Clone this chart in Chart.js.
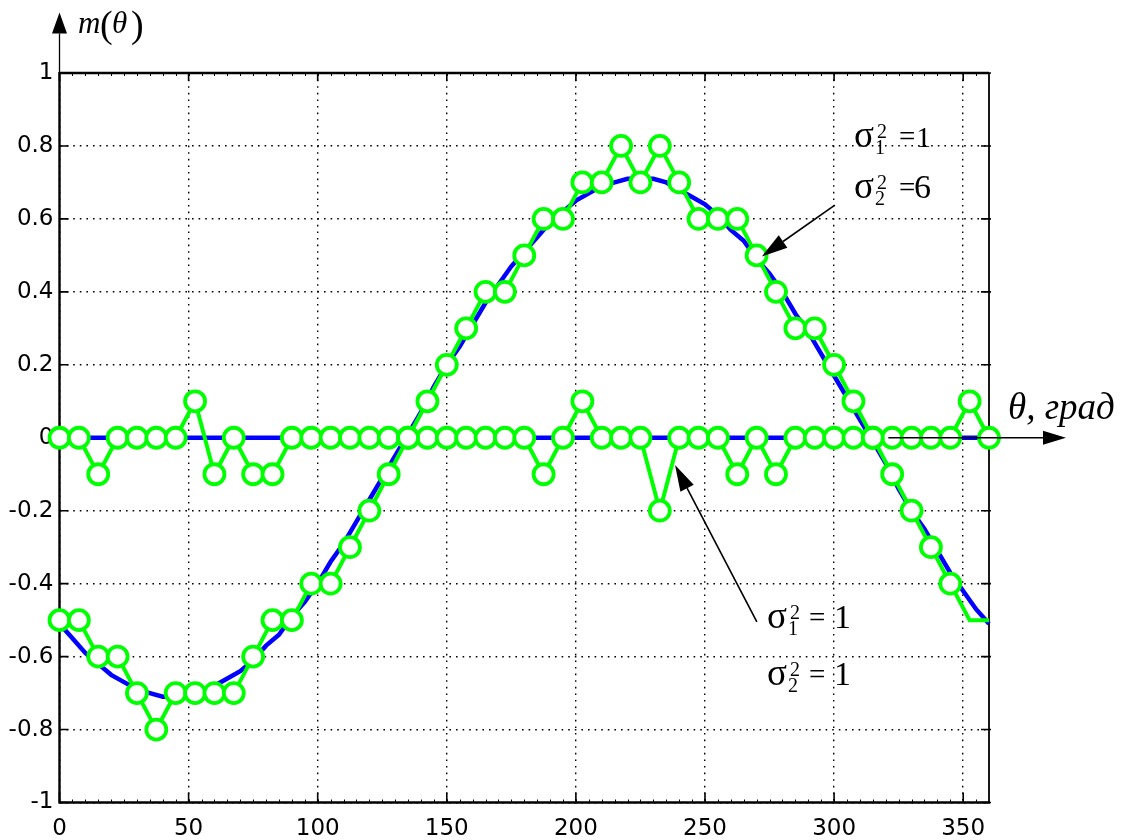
<!DOCTYPE html>
<html>
<head>
<meta charset="utf-8">
<script src="https://cdn.jsdelivr.net/npm/chart.js@4.4.1/dist/chart.umd.min.js"></script>
<style>
    html, body { margin: 0; padding: 0; background: #fff; }
    #wrap { width: 1128px; height: 840px; }
</style>
</head>
<body>
<div id="wrap"><canvas id="chart1" width="1128" height="840"></canvas></div>
<script>
// angles of the noisy estimates (every 7.5 deg)
const thetaGreen = [0, 7.5, 15, 22.5, 30, 37.5, 45, 52.5, 60, 67.5, 75, 82.5, 90, 97.5, 105, 112.5,
    120, 127.5, 135, 142.5, 150, 157.5, 165, 172.5, 180, 187.5, 195, 202.5, 210, 217.5, 225, 232.5,
    240, 247.5, 255, 262.5, 270, 277.5, 285, 292.5, 300, 307.5, 315, 322.5, 330, 337.5, 345, 352.5, 360];

// sigma1^2 = 1, sigma2^2 = 6
const greenSine = [-0.5, -0.5, -0.6, -0.6, -0.7, -0.8, -0.7, -0.7, -0.7, -0.7, -0.6, -0.5, -0.5, -0.4, -0.4, -0.3,
    -0.2, -0.1, 0, 0.1, 0.2, 0.3, 0.4, 0.4, 0.5, 0.6, 0.6, 0.7, 0.7, 0.8, 0.7, 0.8,
    0.7, 0.6, 0.6, 0.6, 0.5, 0.4, 0.3, 0.3, 0.2, 0.1, 0, -0.1, -0.2, -0.3, -0.4, -0.5, -0.5];

// sigma1^2 = 1, sigma2^2 = 1
const greenZero = [0, 0, -0.1, 0, 0, 0, 0, 0.1, -0.1, 0, -0.1, -0.1, 0, 0, 0, 0,
    0, 0, 0, 0, 0, 0, 0, 0, 0, -0.1, 0, 0.1, 0, 0, 0, -0.2,
    0, 0, 0, -0.1, 0, -0.1, 0, 0, 0, 0, 0, 0, 0, 0, 0, 0.1, 0];

// theoretical curves (every 5 deg)
const thetaBlue = [0, 5, 10, 15, 20, 25, 30, 35, 40, 45, 50, 55, 60, 65, 70, 75, 80, 85, 90, 95,
    100, 105, 110, 115, 120, 125, 130, 135, 140, 145, 150, 155, 160, 165, 170, 175, 180, 185, 190, 195,
    200, 205, 210, 215, 220, 225, 230, 235, 240, 245, 250, 255, 260, 265, 270, 275, 280, 285, 290, 295,
    300, 305, 310, 315, 320, 325, 330, 335, 340, 345, 350, 355, 360];
const blueSine = [-0.51, -0.55, -0.59, -0.62, -0.65, -0.67, -0.69, -0.70, -0.71, -0.71,
    -0.71, -0.70, -0.68, -0.66, -0.64, -0.61, -0.57, -0.54, -0.49, -0.45,
    -0.40, -0.34, -0.29, -0.23, -0.17, -0.11, -0.05, 0.01, 0.07, 0.14,
    0.20, 0.25, 0.31, 0.37, 0.42, 0.47, 0.51, 0.55, 0.59, 0.62,
    0.65, 0.67, 0.69, 0.70, 0.71, 0.71, 0.71, 0.70, 0.68, 0.66,
    0.64, 0.61, 0.57, 0.54, 0.49, 0.45, 0.40, 0.34, 0.29, 0.23,
    0.17, 0.11, 0.05, -0.01, -0.07, -0.14, -0.20, -0.25, -0.31, -0.37,
    -0.42, -0.47, -0.51];
const thetaBlueZero = [0, 360];
const blueZero = [0, 0];

const xTicks = [0, 50, 100, 150, 200, 250, 300, 350];
const yTicks = [-1, -0.8, -0.6, -0.4, -0.2, 0, 0.2, 0.4, 0.6, 0.8, 1];

function pts(xs, ys) {
    return xs.map((x, i) => ({ x: x, y: ys[i] }));
}

const GREEN = '#00ff00';
const BLUE = '#0000ff';
const SERIF = '"Liberation Serif", "DejaVu Serif", serif';

function arrow(ctx, x1, y1, x2, y2, len, half) {
    const a = Math.atan2(y2 - y1, x2 - x1);
    const bx = x2 - len * Math.cos(a), by = y2 - len * Math.sin(a);
    ctx.beginPath();
    ctx.moveTo(x1, y1);
    ctx.lineTo(bx, by);
    ctx.stroke();
    ctx.beginPath();
    ctx.moveTo(x2, y2);
    ctx.lineTo(bx + half * Math.sin(a), by - half * Math.cos(a));
    ctx.lineTo(bx - half * Math.sin(a), by + half * Math.cos(a));
    ctx.closePath();
    ctx.fill();
}

// sigma_idx^2 = rhs
function sigmaLine(ctx, x, base, idx, rhs, eqX, rhsX, rhsSize) {
    ctx.textAlign = 'left';
    ctx.textBaseline = 'alphabetic';
    ctx.font = '37px ' + SERIF;
    ctx.fillText('σ', x, base);
    const w = ctx.measureText('σ').width;
    ctx.font = '20px ' + SERIF;
    ctx.fillText('2', x + w + 3, base - 9);
    ctx.fillText(idx, x + w + 1, base + 7);
    ctx.font = '29px ' + SERIF;
    ctx.fillText('=', eqX, base - 1);
    ctx.font = rhsSize + 'px ' + SERIF;
    ctx.fillText(rhs, rhsX, base);
}

const framePlugin = {
    id: 'frame',
    beforeDatasetsDraw(chart) {
        const ctx = chart.ctx;
        const a = chart.chartArea;
        const xs = chart.scales.x, ys = chart.scales.y;
        ctx.save();
        ctx.strokeStyle = '#000';
        // minor ticks top/bottom
        ctx.lineWidth = 1;
        for (let v = 5; v < 360; v += 5) {
            const px = Math.round(xs.getPixelForValue(v)) + 0.5;
            ctx.beginPath();
            ctx.moveTo(px, a.bottom); ctx.lineTo(px, a.bottom - 3);
            ctx.moveTo(px, a.top); ctx.lineTo(px, a.top + 3);
            ctx.stroke();
        }
        // major ticks
        ctx.lineWidth = 1.6;
        xTicks.forEach(v => {
            const px = xs.getPixelForValue(v);
            ctx.beginPath();
            ctx.moveTo(px, a.bottom); ctx.lineTo(px, a.bottom - 10);
            ctx.moveTo(px, a.top); ctx.lineTo(px, a.top + 8);
            ctx.stroke();
        });
        yTicks.forEach(v => {
            const py = ys.getPixelForValue(v);
            ctx.beginPath();
            ctx.moveTo(a.left, py); ctx.lineTo(a.left + 9, py);
            ctx.moveTo(a.right + 2, py); ctx.lineTo(a.right - 8, py);
            ctx.stroke();
        });
        // box
        ctx.lineWidth = 2.4;
        ctx.beginPath();
        ctx.moveTo(a.left, a.top); ctx.lineTo(a.right, a.top);
        ctx.moveTo(a.left, a.top - 1); ctx.lineTo(a.left, a.bottom + 1);
        ctx.moveTo(a.left - 1, a.bottom); ctx.lineTo(a.right + 1, a.bottom);
        ctx.stroke();
        ctx.lineWidth = 1.8;
        ctx.beginPath();
        ctx.moveTo(a.right, a.top); ctx.lineTo(a.right, a.bottom);
        ctx.stroke();
        ctx.restore();
    },
    afterDraw(chart) {
        const ctx = chart.ctx;
        const a = chart.chartArea;
        const xs = chart.scales.x, ys = chart.scales.y;
        ctx.save();
        ctx.strokeStyle = '#000';
        ctx.fillStyle = '#000';
        ctx.lineWidth = 1.3;

        // y axis arrow
        arrow(ctx, a.left, a.top, a.left, 12.5, 21, 7.5);
        // x axis arrow
        const y0 = ys.getPixelForValue(0);
        arrow(ctx, xs.getPixelForValue(321), y0, 1066, y0, 23, 7);

        // annotation arrows
        ctx.lineWidth = 1.6;
        arrow(ctx, xs.getPixelForValue(300.3), ys.getPixelForValue(0.638),
            xs.getPixelForValue(272), ys.getPixelForValue(0.497), 26, 7.5);
        arrow(ctx, xs.getPixelForValue(270.1), ys.getPixelForValue(-0.505),
            xs.getPixelForValue(238.4), ys.getPixelForValue(-0.075), 26, 7.5);

        // axis names
        ctx.textBaseline = 'alphabetic';
        ctx.textAlign = 'left';
        ctx.font = 'italic 31px ' + SERIF;
        ctx.fillText('m', 78, 33);
        ctx.font = '38px ' + SERIF;
        ctx.fillText('(', 100, 37);
        ctx.font = 'italic 31px ' + SERIF;
        ctx.fillText('θ', 112, 33);
        ctx.font = '38px ' + SERIF;
        ctx.fillText(')', 131, 37);

        ctx.font = 'italic 37px ' + SERIF;
        ctx.fillText('θ, град', 1008, 419);

        sigmaLine(ctx, 854, 147, '1', '1', 899, 916, 30);
        sigmaLine(ctx, 854, 198, '2', '6', 899, 914, 34);
        sigmaLine(ctx, 767, 628, '1', '1', 809, 834, 34);
        sigmaLine(ctx, 767, 685, '2', '1', 809, 834, 34);
        ctx.restore();
    }
};

const ctx1 = document.getElementById('chart1').getContext('2d');

const chart1 = new Chart(ctx1, {
    type: 'line',
    data: {
        datasets: [{
            label: 'sigma2^2 = 6',
            data: pts(thetaGreen, greenSine),
            borderColor: GREEN,
            borderWidth: 4,
            pointRadius: c => (c.dataIndex >= 47 ? 0 : 10),
            pointBorderWidth: 3.8,
            pointBorderColor: GREEN,
            pointBackgroundColor: '#fff',
            clip: false,
            order: 0
        }, {
            label: 'sigma2^2 = 1',
            data: pts(thetaGreen, greenZero),
            borderColor: GREEN,
            borderWidth: 4,
            pointRadius: 10,
            pointBorderWidth: 3.8,
            pointBorderColor: GREEN,
            pointBackgroundColor: '#fff',
            clip: false,
            order: 1
        }, {
            label: 'theory 1',
            data: pts(thetaBlue, blueSine),
            borderColor: BLUE,
            borderWidth: 4.5,
            pointRadius: 0,
            clip: false,
            order: 2
        }, {
            label: 'theory 2',
            data: pts(thetaBlueZero, blueZero),
            borderColor: BLUE,
            borderWidth: 4.5,
            pointRadius: 0,
            clip: false,
            order: 3
        }]
    },
    options: {
        responsive: false,
        animation: false,
        events: [],
        layout: { padding: { top: 73, right: 139, left: 0, bottom: 0 } },
        plugins: {
            legend: { display: false },
            tooltip: { enabled: false }
        },
        scales: {
            x: {
                type: 'linear',
                min: 0,
                max: 360,
                afterBuildTicks: axis => { axis.ticks = xTicks.map(v => ({ value: v })); },
                afterFit: axis => { axis.height = 37.5; },
                grid: { color: '#000', lineWidth: 1.4, drawTicks: false },
                border: { display: false, dash: [1.6, 5] },
                ticks: {
                    color: '#000',
                    padding: 13,
                    maxRotation: 0,
                    font: { family: 'DejaVu Sans', size: 23 },
                    callback: v => String(v)
                }
            },
            y: {
                type: 'linear',
                min: -1,
                max: 1,
                afterBuildTicks: axis => { axis.ticks = yTicks.map(v => ({ value: v })); },
                afterFit: axis => { axis.width = 59.5; },
                grid: { color: '#000', lineWidth: 1.4, drawTicks: false },
                border: { display: false, dash: [1.6, 5] },
                ticks: {
                    color: '#000',
                    padding: 6,
                    font: { family: 'DejaVu Sans', size: 23 },
                    callback: v => String(v)
                }
            }
        }
    },
    plugins: [framePlugin]
});
</script>
</body>
</html>
